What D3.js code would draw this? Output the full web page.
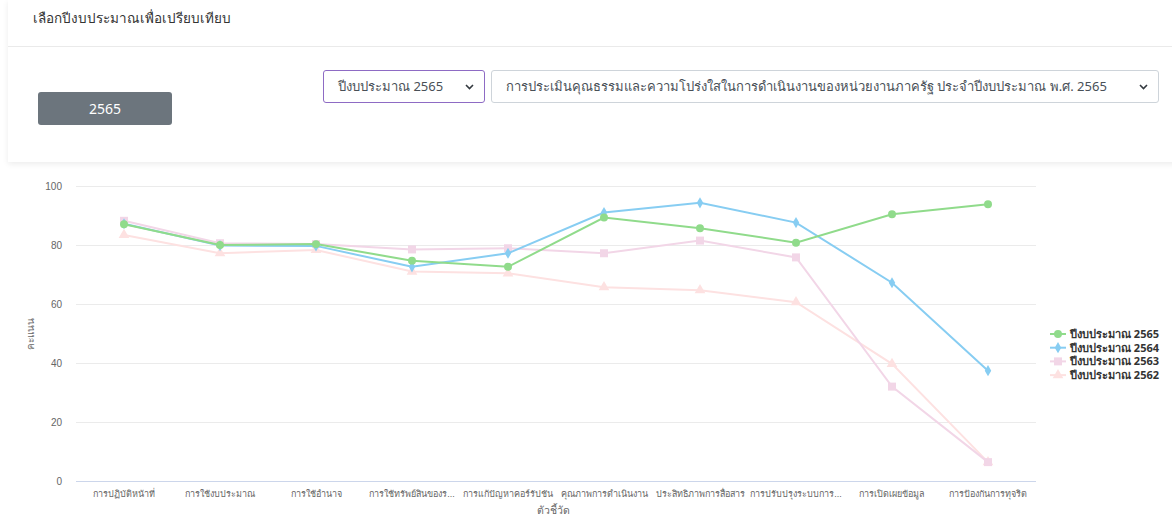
<!DOCTYPE html>
<html lang="th">
<head>
<meta charset="utf-8">
<script src="https://cdn.jsdelivr.net/npm/d3@7"></script>
<style>
  body { margin: 0; background: #fff; font-family: "Noto Sans", "Open Sans", sans-serif; overflow: hidden; }
  .card { position: absolute; left: 8px; top: 0; width: 1180px; height: 162px; background: #fff;
          box-shadow: 0 2px 6px rgba(0,0,0,0.08); }
  .card-head { position: absolute; left: 0; top: 0; right: 0; height: 46px; border-bottom: 1px solid #eaeaea; }
  .card-head span { position: absolute; left: 25px; top: 7px; font-size: 13.5px; color: #333; }
  .btn { position: absolute; left: 30px; top: 92px; width: 134px; height: 33px; background: #6c757d;
         border-radius: 3px; color: #fff; font-size: 14px; text-align: center; line-height: 33px; }
  .sel { position: absolute; top: 70px; height: 31px; border: 1px solid #ced4da; border-radius: 3px;
         font-size: 13px; color: #495057; line-height: 31px; padding-left: 14px; white-space: nowrap;
         overflow: hidden; }
  .sel svg { position: absolute; right: 10px; top: 13px; }
  #sel1 { left: 315px; width: 146px; border-color: #8e6bc4; }
  #sel2 { left: 483px; width: 652px; }
  #chart { position: absolute; left: 0; top: 165px; }
</style>
</head>
<body>
<div class="card">
  <div class="card-head"><span>เลือกปีงบประมาณเพื่อเปรียบเทียบ</span></div>
  <div class="btn">2565</div>
  <div class="sel" id="sel1">ปีงบประมาณ 2565<svg width="9" height="6"><path d="M1,1 L4.5,4.5 L8,1" fill="none" stroke="#343a40" stroke-width="1.6"/></svg></div>
  <div class="sel" id="sel2">การประเมินคุณธรรมและความโปร่งใสในการดำเนินงานของหน่วยงานภาครัฐ ประจำปีงบประมาณ พ.ศ. 2565<svg width="9" height="6"><path d="M1,1 L4.5,4.5 L8,1" fill="none" stroke="#343a40" stroke-width="1.6"/></svg></div>
</div>
<svg id="chart"></svg>
<script>
var categories = ["การปฏิบัติหน้าที่", "การใช้งบประมาณ", "การใช้อำนาจ", "การใช้ทรัพย์สินของร...",
  "การแก้ปัญหาคอร์รัปชัน", "คุณภาพการดำเนินงาน", "ประสิทธิภาพการสื่อสาร", "การปรับปรุงระบบการ...",
  "การเปิดเผยข้อมูล", "การป้องกันการทุจริต"];
var seriesNames = ["ปีงบประมาณ 2565", "ปีงบประมาณ 2564", "ปีงบประมาณ 2563", "ปีงบประมาณ 2562"];
var y2565 = [87.0, 80.0, 80.3, 74.7, 72.6, 89.3, 85.7, 80.8, 90.4, 93.8];
var y2564 = [87.2, 79.8, 79.7, 72.6, 77.2, 91.0, 94.3, 87.6, 67.2, 37.4];
var y2563 = [88.2, 80.6, 80.3, 78.5, 78.9, 77.2, 81.5, 75.8, 32.0, 6.4];
var y2562 = [83.4, 77.2, 78.3, 71.0, 70.4, 65.7, 64.7, 60.6, 39.7, 6.4];
var yTicks = [0, 20, 40, 60, 80, 100];

var colors = ["#90db8b", "#87cdf2", "#f2d6e7", "#fde1e1"];
var symbols = [d3.symbolCircle, d3.symbolDiamond, d3.symbolSquare, d3.symbolTriangle];
var symSizes = [50, 36, 64, 50];
var values = [y2565, y2564, y2563, y2562];

var W = 1172, H = 352;
var mTop = 21, mBottom = 316, mLeft = 76, mRight = 1036;

var svg = d3.select("#chart").attr("width", W).attr("height", H)
  .style("font-family", '"Noto Sans", "Open Sans", sans-serif');

var x = d3.scaleBand().domain(categories).range([mLeft, mRight]);
var y = d3.scaleLinear().domain([0, 100]).range([mBottom, mTop]);
var cx = function(c) { return x(c) + x.bandwidth() / 2; };

// grid
svg.append("g").selectAll("line").data(yTicks).enter().append("line")
  .attr("x1", mLeft).attr("x2", mRight)
  .attr("y1", function(d) { return y(d) + 0.5; }).attr("y2", function(d) { return y(d) + 0.5; })
  .attr("stroke", function(d) { return d === 0 ? "#ccd6eb" : "#ebebeb"; });

// y axis labels
var yAxis = d3.axisLeft(y).tickValues(yTicks).tickSize(0).tickPadding(14);
var gy = svg.append("g").attr("transform", "translate(" + mLeft + ",0)").call(yAxis);
gy.select(".domain").remove();
gy.selectAll("text").attr("fill", "#666").style("font-size", "10px");

// x axis
var xAxis = d3.axisBottom(x).tickSize(0).tickPadding(10);
var gx = svg.append("g").attr("transform", "translate(0," + mBottom + ")").call(xAxis);
gx.select(".domain").remove();
gx.selectAll("text").attr("fill", "#666").style("font-size", "9px");

// axis titles
svg.append("text").attr("transform", "translate(34," + (mTop + mBottom) / 2 + ") rotate(-90)")
  .attr("text-anchor", "middle").attr("fill", "#666").style("font-size", "10px").text("คะแนน");
svg.append("text").attr("x", (mLeft + mRight) / 2 - 3).attr("y", 349)
  .attr("text-anchor", "middle").attr("fill", "#666").style("font-size", "10.5px").text("ตัวชี้วัด");

// lines, drawn back to front
var line = d3.line().x(function(d, i) { return cx(categories[i]); }).y(function(d) { return y(d); });
[3, 2, 1, 0].forEach(function(s) {
  var g = svg.append("g");
  g.append("path").datum(values[s]).attr("d", line)
    .attr("fill", "none").attr("stroke", colors[s]).attr("stroke-width", 2);
  g.selectAll("path.m").data(values[s]).enter().append("path").attr("class", "m")
    .attr("d", d3.symbol().type(symbols[s]).size(symSizes[s]))
    .attr("transform", function(d, i) { return "translate(" + cx(categories[i]) + "," + y(d) + ")"; })
    .attr("fill", colors[s]);
});

// legend
var lg = svg.append("g").attr("transform", "translate(1050,169)");
var item = lg.selectAll("g").data(seriesNames).enter().append("g")
  .attr("transform", function(d, i) { return "translate(0," + (i * 13.7) + ")"; });
item.append("line").attr("x1", 0).attr("x2", 16).attr("stroke-width", 2)
  .attr("stroke", function(d, i) { return colors[i]; });
item.append("path").attr("transform", "translate(8,0)")
  .attr("d", function(d, i) { return d3.symbol().type(symbols[i]).size(symSizes[i])(); })
  .attr("fill", function(d, i) { return colors[i]; });
item.append("text").attr("x", 20).attr("y", 4).attr("fill", "#333")
  .style("font-size", "11px").style("font-weight", "bold").text(function(d) { return d; });
</script>
</body>
</html>
